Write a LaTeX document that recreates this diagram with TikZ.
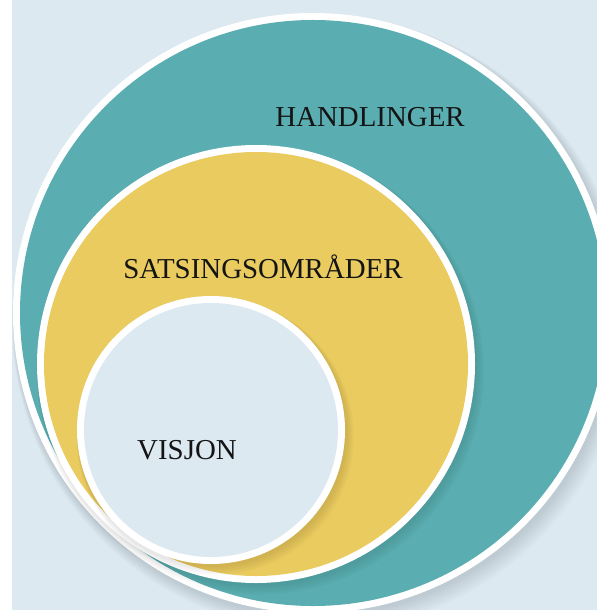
\documentclass[tikz,border=0pt]{standalone}
\usepackage{fontspec}
\setmainfont{Liberation Serif}
\definecolor{bgblue}{HTML}{DCE9F0}
\definecolor{teal1}{HTML}{5AADB0}
\definecolor{gold1}{HTML}{E9CB60}
\definecolor{txt}{HTML}{141414}
\begin{document}
\begin{tikzpicture}[x=1bp,y=-1bp,
  ring/.style={fill=white},
  lbl/.style={text=txt,font=\fontsize{29}{33}\selectfont,inner sep=0pt,anchor=center}]
\useasboundingbox (0,0) rectangle (597,610);
\clip (0,0) rectangle (597,610);
\fill[white] (0,0) rectangle (597,610);
\fill[bgblue] (12,0) rectangle (597,610);
% soft shadows
\foreach \k in {1,...,10}{
  \fill[black,opacity=0.01] (314+0.6*\k,315+0.8*\k) circle ({300bp+0.8bp*\k});
}
% outer circle
\fill[ring] (313,313) circle (300bp);
\fill[teal1] (313,313) circle (293bp);
\foreach \k in {1,...,8}{
  \fill[black,opacity=0.012] (257+0.4*\k,366+0.6*\k) circle ({219bp+0.6bp*\k});
}
% middle circle
\fill[ring] (256,364) circle (219bp);
\fill[gold1] (256,364) circle (212bp);
\foreach \k in {1,...,8}{
  \fill[black,opacity=0.012] (212+0.4*\k,432+0.6*\k) circle ({134bp+0.6bp*\k});
}
% inner circle
\fill[ring] (211,430) circle (134bp);
\fill[bgblue] (211,430) circle (127bp);
\node[lbl] (handlinger) at (370,117) {HANDLINGER};
\node[lbl] (satsing) at (263,267) {SATSINGSOMRÅDER};
\node[lbl] (visjon) at (187,450) {VISJON};
\end{tikzpicture}
\end{document}
